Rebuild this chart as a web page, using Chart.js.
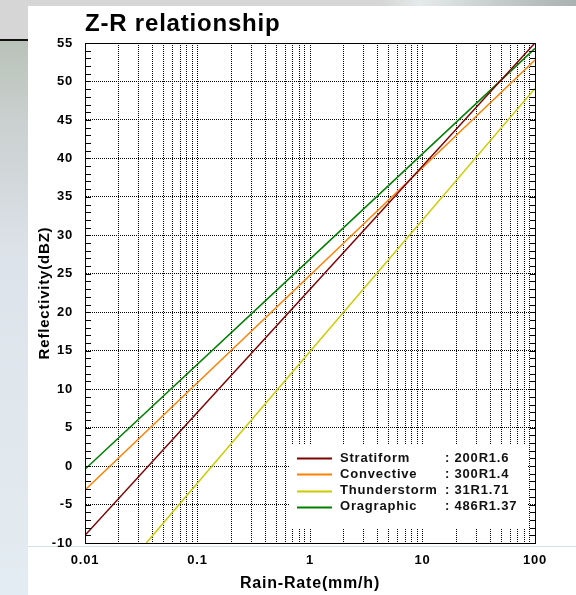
<!DOCTYPE html>
<html>
<head>
<meta charset="utf-8">
<script src="https://cdn.jsdelivr.net/npm/chart.js@4/dist/chart.umd.min.js"></script>
<style>
  html, body { margin: 0; padding: 0; }
  body { width: 576px; height: 595px; position: relative; overflow: hidden; background: #e4ecf1; }
  .bgLeft { position: absolute; left: 0; top: 0; width: 28px; height: 595px;
    background: linear-gradient(to bottom, #d6d6d6 0px, #d6d6d6 39px, #111 39px, #111 41px, #b9c2b9 41px, #c9d0cf 120px, #dde3ea 260px, #e3ecf2 595px); }
  .bgTop { position: absolute; left: 0; top: 0; width: 576px; height: 6px;
    background: linear-gradient(to right, #d6d6d6 0px, #d6d6d6 382px, #e6eaea 420px, #c4cccb 500px, #a9b2b1 576px); }
  .panel { position: absolute; left: 28px; top: 6px; right: 0; bottom: 0; background: #fff; }
  .blueLine { position: absolute; left: 28px; top: 546px; width: 548px; height: 1px; background: #cfe0ea; }
  canvas { position: absolute; left: 0; top: 0; }
</style>
</head>
<body>
<div class="bgLeft"></div>
<div class="bgTop"></div>
<div class="panel"></div>
<div class="blueLine"></div>
<canvas id="zrChart" width="576" height="595"></canvas>
<script>
// ---- data ----
const rainRates = [0.01, 1, 100];          // mm/h
const stratiform = [-9.0, 23.0, 55.0];      // dBZ
const convective = [-3.1, 24.8, 52.8];
const oragraphic = [-0.4, 26.9, 54.3];
const thunderRates = [0.035, 1, 100];       // starts where it leaves the bottom axis
const thunderstorm = [-10.0, 14.9, 49.1];

const seriesNames = ['Stratiform', 'Convective', 'Thunderstorm', 'Oragraphic'];
const formulas = [': 200R1.6', ': 300R1.4', ': 31R1.71', ': 486R1.37'];
const seriesColors = ['#800000', '#ff8000', '#cccc00', '#008000'];

const xLabelValues = [0.01, 0.1, 1, 10, 100];
const xLabels = ['0.01', '0.1', '1', '10', '100'];
const xMultipliers = [1, 2, 3, 4, 5, 6, 7, 8, 9];

const FONT = "'Liberation Sans', Arial, sans-serif";

function toPoints(xs, ys) {
    return xs.map((x, i) => ({x: x, y: ys[i]}));
}

// all gridline positions on the log axis: 1..9 in every decade
const xTickValues = [];
for (let d = 0; d < xLabelValues.length - 1; d++) {
    xMultipliers.forEach(m => xTickValues.push(+(xLabelValues[d] * m).toPrecision(3)));
}
xTickValues.push(xLabelValues[xLabelValues.length - 1]);

// letter spacing like the original rendering
const spacingPlugin = {
    id: 'spacing',
    beforeDraw(chart) {
        chart.ctx.letterSpacing = '0.8px';
    }
};

// box frame + minor ticks on the y axes
const framePlugin = {
    id: 'frame',
    afterDraw(chart) {
        const {ctx, chartArea: ca, scales} = chart;
        ctx.save();
        ctx.strokeStyle = '#000';
        ctx.lineWidth = 1;
        ctx.setLineDash([]);
        ctx.strokeRect(ca.left + 0.5, ca.top + 0.5, ca.right - ca.left, ca.bottom - ca.top);
        ctx.beginPath();
        for (let v = scales.y.min; v <= scales.y.max; v++) {
            const py = Math.round(scales.y.getPixelForValue(v)) + 0.5;
            ctx.moveTo(ca.left, py);
            ctx.lineTo(ca.left + 6, py);
            ctx.moveTo(ca.right - 5, py);
            ctx.lineTo(ca.right, py);
        }
        ctx.stroke();
        ctx.restore();
    }
};

// legend drawn inside the plot, with the formula column
const legendPlugin = {
    id: 'zrLegend',
    afterDatasetsDraw(chart) {
        const {ctx, chartArea: ca} = chart;
        const bx = ca.left + 205, by = ca.top + 401;
        ctx.save();
        ctx.fillStyle = '#fff';
        ctx.fillRect(bx, by, 238, 84);
        ctx.font = 'bold 13px ' + FONT;
        ctx.textBaseline = 'middle';
        ctx.letterSpacing = '0.8px';
        chart.data.datasets.forEach((ds, i) => {
            const y = by + 14 + i * 16.3;
            ctx.strokeStyle = ds.borderColor;
            ctx.lineWidth = 2;
            ctx.beginPath();
            ctx.moveTo(bx + 7, Math.round(y) + 0.5);
            ctx.lineTo(bx + 42, Math.round(y) + 0.5);
            ctx.stroke();
            ctx.fillStyle = '#111';
            ctx.fillText(ds.label, bx + 50, y);
            ctx.fillText(formulas[i], bx + 155, y);
        });
        ctx.restore();
    }
};

function initZRChart() {
    const ctx = document.getElementById('zrChart');
    const seriesData = [
        toPoints(rainRates, stratiform),
        toPoints(rainRates, convective),
        toPoints(thunderRates, thunderstorm),
        toPoints(rainRates, oragraphic)
    ];

    new Chart(ctx, {
        type: 'line',
        data: {
            datasets: seriesNames.map((name, i) => ({
                label: name,
                data: seriesData[i],
                borderColor: seriesColors[i],
                backgroundColor: seriesColors[i],
                borderWidth: 1.5,
                pointRadius: 0,
                tension: 0,
                fill: false
            }))
        },
        options: {
            responsive: false,
            animation: false,
            events: [],
            layout: {
                padding: {left: 0, right: 41, top: 0, bottom: 0}
            },
            plugins: {
                legend: {display: false},
                tooltip: {enabled: false},
                title: {
                    display: true,
                    text: 'Z-R relationship',
                    align: 'start',
                    fullSize: false,
                    color: '#000',
                    font: {family: FONT, size: 24, weight: 'bold', lineHeight: 1.2},
                    padding: {top: 10, bottom: 4.2}
                }
            },
            scales: {
                x: {
                    type: 'logarithmic',
                    min: 0.01,
                    max: 100,
                    afterBuildTicks: scale => {
                        scale.ticks = xTickValues.map(v => ({value: v}));
                    },
                    afterFit: scale => { scale.height = 52; },
                    ticks: {
                        autoSkip: false,
                        maxRotation: 0,
                        padding: 10,
                        color: '#000',
                        font: {family: FONT, size: 13, weight: 'bold'},
                        callback: function(value) {
                            const i = xLabelValues.indexOf(+(+value).toPrecision(3));
                            return i >= 0 ? xLabels[i] : '';
                        }
                    },
                    grid: {color: '#000', lineWidth: 1, drawTicks: false},
                    border: {display: true, color: '#000', width: 1, dash: [1, 1]},
                    title: {
                        display: true,
                        text: 'Rain-Rate(mm/h)',
                        color: '#000',
                        font: {family: FONT, size: 16, weight: 'bold', lineHeight: 1.2},
                        padding: {top: 0, bottom: 1.4}
                    }
                },
                y: {
                    min: -10,
                    max: 55,
                    afterFit: scale => { scale.width = 85; },
                    ticks: {
                        stepSize: 5,
                        padding: 12,
                        color: '#000',
                        font: {family: FONT, size: 13, weight: 'bold'}
                    },
                    grid: {color: '#000', lineWidth: 1, drawTicks: false},
                    border: {display: true, color: '#000', width: 1, dash: [1, 1]},
                    title: {
                        display: true,
                        text: 'Reflectivity(dBZ)',
                        color: '#000',
                        font: {family: FONT, size: 15, weight: 'bold', lineHeight: 1.2},
                        padding: {top: 36, bottom: 0}
                    }
                }
            }
        },
        plugins: [spacingPlugin, legendPlugin, framePlugin]
    });
}

initZRChart();
</script>
</body>
</html>
